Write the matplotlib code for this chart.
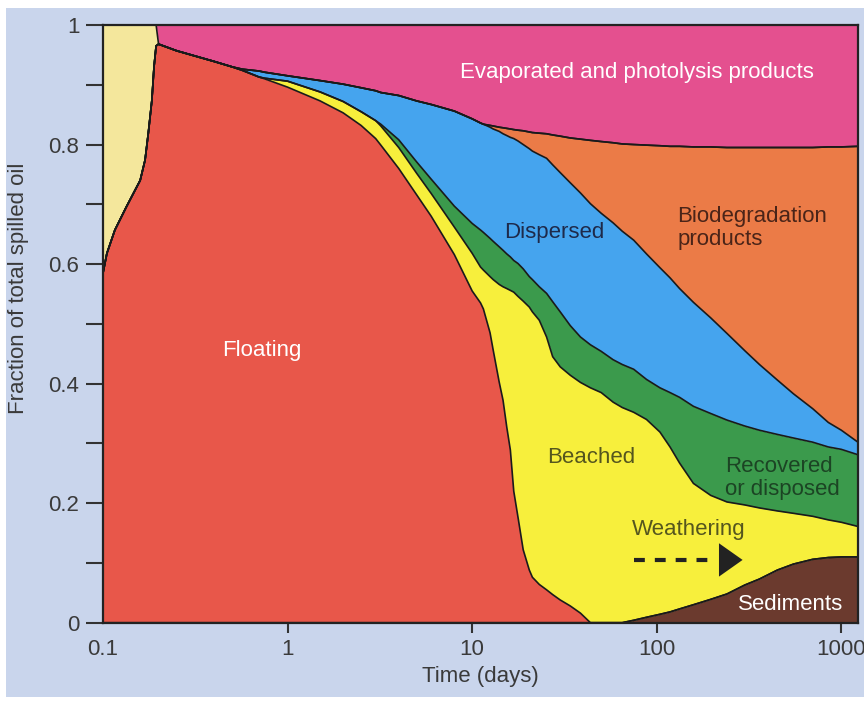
import numpy as np
import matplotlib.pyplot as plt
from matplotlib.patches import Rectangle

plt.rcParams['font.family'] = ['Liberation Sans', 'DejaVu Sans']

# time axis (days)
days = [0.1, 0.105, 0.116, 0.134, 0.159, 0.169, 0.176, 0.184, 0.189, 0.194,
        0.2, 0.25, 0.3, 0.4, 0.5, 0.57, 0.7, 0.75, 1, 1.5,
        2, 2.5, 3, 3.2, 4, 5, 6, 8, 10, 11.1,
        11.5, 12.5, 13, 14, 14.7, 15.4, 16.1, 16.8, 17.7, 18.9,
        20.4, 21.2, 23.1, 25.3, 27.3, 30, 34, 38.6, 43.7, 50,
        58, 65, 75, 88, 104, 118, 133, 158, 196, 240,
        300, 360, 450, 550, 700, 850, 1000, 1230]

# upper edge of each band, as cumulative fraction of the spilled oil
# (during the first hours every band above "floating" is still empty)
first_hours = [0.585, 0.618, 0.657, 0.696, 0.74, 0.774, 0.819, 0.874, 0.93, 0.965,
               0.968, 0.957, 0.95, 0.939, 0.93]

sediments_top = [0] * 52 + [0.004, 0.009, 0.014, 0.018, 0.023, 0.03, 0.039, 0.048,
                            0.063, 0.073, 0.088, 0.098, 0.106, 0.109, 0.11, 0.11]

floating_top = first_hours + [
    0.924, 0.913, 0.91, 0.896, 0.873, 0.853, 0.832, 0.81, 0.799,
    0.76, 0.716, 0.68, 0.616, 0.555,
    0.535, 0.525, 0.485, 0.456, 0.403, 0.372, 0.327, 0.289, 0.22, 0.177,
    0.122, 0.088, 0.076, 0.064, 0.055, 0.047, 0.038, 0.028, 0.016, 0,
    0, 0, 0,
    0.004, 0.009, 0.014, 0.018, 0.023, 0.03, 0.039, 0.048,
    0.063, 0.073, 0.088, 0.098, 0.106, 0.109, 0.11, 0.11]

beached_top = first_hours + [
    0.924, 0.913, 0.911, 0.906, 0.888, 0.872, 0.855, 0.84, 0.831,
    0.795, 0.752, 0.718, 0.662, 0.618,
    0.595, 0.59, 0.579, 0.574, 0.566, 0.562, 0.559, 0.556, 0.553, 0.546,
    0.538, 0.528, 0.52, 0.506, 0.478, 0.445, 0.428, 0.414, 0.402, 0.393,
    0.385, 0.369, 0.36,
    0.352, 0.34, 0.319, 0.294, 0.267, 0.233, 0.213, 0.202,
    0.197, 0.192, 0.187, 0.183, 0.178, 0.172, 0.168, 0.161]

recovered_top = first_hours + [
    0.924, 0.913, 0.911, 0.906, 0.888, 0.872, 0.855, 0.84, 0.834,
    0.808, 0.771, 0.742, 0.697, 0.668,
    0.657, 0.653, 0.643, 0.638, 0.629, 0.623, 0.617, 0.612, 0.606, 0.601,
    0.592, 0.579, 0.574, 0.562, 0.551, 0.537, 0.52, 0.497, 0.478, 0.465,
    0.454, 0.44, 0.432,
    0.424, 0.407, 0.393, 0.385, 0.377, 0.362, 0.35, 0.339,
    0.329, 0.322, 0.315, 0.309, 0.302, 0.294, 0.29, 0.281]

dispersed_top = first_hours + [
    0.926, 0.923, 0.921, 0.915, 0.907, 0.901, 0.895, 0.89, 0.887,
    0.882, 0.873, 0.867, 0.856, 0.843,
    0.836, 0.834, 0.829, 0.826, 0.822, 0.818, 0.815, 0.812, 0.81, 0.806,
    0.80, 0.793, 0.789, 0.783, 0.777, 0.766, 0.753, 0.736, 0.719, 0.701,
    0.685, 0.669, 0.655,
    0.64, 0.617, 0.594, 0.577, 0.559, 0.536, 0.51, 0.484,
    0.455, 0.432, 0.406, 0.383, 0.358, 0.335, 0.322, 0.302]

biodeg_top = first_hours + [
    0.926, 0.923, 0.921, 0.915, 0.907, 0.901, 0.895, 0.89, 0.887,
    0.882, 0.873, 0.867, 0.856, 0.843,
    0.836, 0.834, 0.832, 0.831, 0.829, 0.828, 0.827, 0.826, 0.825, 0.824,
    0.823, 0.821, 0.82, 0.819, 0.818, 0.816, 0.814, 0.811, 0.809, 0.807,
    0.805, 0.803, 0.801,
    0.80, 0.799, 0.798, 0.797, 0.797, 0.796, 0.796, 0.795,
    0.795, 0.795, 0.795, 0.795, 0.795, 0.796, 0.796, 0.797]

# oil not yet spread out on the water (first ~0.2 day)
early_top = [1] * 10 + biodeg_top[10:]

x = np.array(days)
edges = [np.zeros(len(x)), sediments_top, floating_top, beached_top, recovered_top,
         dispersed_top, biodeg_top, early_top, np.ones(len(x))]
colors = ['#6b3a2e', '#e8574a', '#f7ef3c', '#3b9a4c', '#45a4ee', '#eb7b47', '#f4e79c', '#e4508f']

fig = plt.figure(figsize=(8.64, 7.06), dpi=100, facecolor='white')
fig.patches.append(Rectangle((0.007, 0.013), 0.993, 0.976, transform=fig.transFigure,
                             facecolor='#c9d5ec', edgecolor='none', zorder=-1))
ax = fig.add_axes([0.1192, 0.118, 0.8738, 0.8466])

for lo, hi, c in zip(edges[:-1], edges[1:], colors):
    ax.fill_between(x, lo, hi, color=c, lw=0)
for e in edges[1:-1]:
    ax.plot(x, e, color='#1a1a1a', lw=1.2, solid_joinstyle='round')

ax.set_xscale('log')
ax.set_xlim(0.1, 1230)
ax.set_ylim(0, 1)

ax.set_xticks([0.1, 1, 10, 100, 1000])
ax.set_xticklabels(['0.1', '1', '10', '100', '1000'])
ax.xaxis.set_minor_locator(plt.NullLocator())
ax.xaxis.get_major_ticks()[0].tick1line.set_visible(False)
ax.set_yticks([0, 0.2, 0.4, 0.6, 0.8, 1])
ax.set_yticklabels(['0', '0.2', '0.4', '0.6', '0.8', '1'])
ax.set_yticks([0.1, 0.3, 0.5, 0.7, 0.9], minor=True)
ax.tick_params(axis='y', which='both', direction='out', length=12, width=1.5,
               color='#333333', labelsize=16, labelcolor='#3a3a3a', pad=5)
ax.tick_params(axis='x', which='major', direction='out', length=7, width=1.5,
               color='#333333', labelsize=16, labelcolor='#3a3a3a', pad=5)
for s in ax.spines.values():
    s.set_linewidth(1.6)
    s.set_color('#222222')

ax.set_xlabel('Time (days)', fontsize=16, color='#3a3a3a', labelpad=4)
ax.set_ylabel('Fraction of total spilled oil', fontsize=16, color='#3a3a3a')
ax.yaxis.set_label_coords(-0.098, 0.56)

ax.text(78, 0.92, 'Evaporated and photolysis products', color='white', fontsize=16,
        ha='center', va='center')
ax.text(27.8, 0.652, 'Dispersed', color='#1e2a4a', fontsize=16, ha='center', va='center')
ax.text(129, 0.66, 'Biodegradation\nproducts', color='#4a2418', fontsize=16,
        ha='left', va='center', linespacing=1.12)
ax.text(0.728, 0.456, 'Floating', color='white', fontsize=16, ha='center', va='center')
ax.text(44.2, 0.276, 'Beached', color='#55561e', fontsize=16, ha='center', va='center')
ax.text(235, 0.242, 'Recovered\nor disposed', color='#1c4424', fontsize=16,
        ha='left', va='center', linespacing=1.12)
ax.text(73.6, 0.156, 'Weathering', color='#55561e', fontsize=16, ha='left', va='center')
ax.text(529, 0.03, 'Sediments', color='white', fontsize=16, ha='center', va='center')

# weathering arrow: dashed shaft plus solid head
ax.plot([75.5, 200], [0.105, 0.105], color='#222222', lw=3, ls=(0, (2.6, 2.4)))
ax.annotate('', xy=(302, 0.105), xytext=(225, 0.105),
            arrowprops=dict(arrowstyle='-|>,head_length=0.85,head_width=0.6',
                            mutation_scale=20, color='#222222', lw=0))

fig.savefig('out.png', dpi=100, facecolor=fig.get_facecolor())
